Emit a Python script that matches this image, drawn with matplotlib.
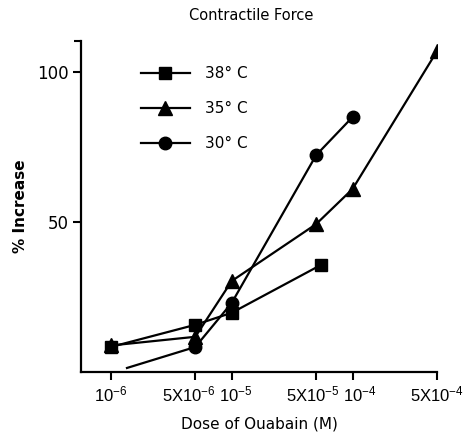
import numpy as np
import matplotlib
matplotlib.use('Agg')
import matplotlib.pyplot as plt
from matplotlib.transforms import ScaledTranslation

# dose of ouabain (M) and % increase
dose_38 = [1e-6, 5e-6, 1e-5, 5.5e-5]
inc_38 = [8.3, 15.7, 19.7, 35.7]

dose_35 = [1e-6, 5e-6, 1e-5, 5e-5, 1e-4, 5e-4]
inc_35 = [8.8, 11.7, 30.3, 49.3, 61.0, 107.0]

dose_30 = [5e-6, 1e-5, 5e-5, 1e-4]
inc_30 = [8.3, 23.0, 72.3, 85.0]
# unmarked start of the 30 C line
dose_30_start = [1.36e-6, 5e-6]
inc_30_start = [1.3, 8.3]

xticks = [1e-6, 5e-6, 1e-5, 5e-5, 1e-4, 5e-4]
xticklabels = [r'$10^{-6}$', r'5X$10^{-6}$', r'$10^{-5}$',
               r'5X$10^{-5}$', r'$10^{-4}$', r'5X$10^{-4}$']

plt.rcParams['font.family'] = 'DejaVu Sans'
plt.rcParams['mathtext.fontset'] = 'custom'
plt.rcParams['mathtext.rm'] = 'Liberation Sans'
plt.rcParams['mathtext.it'] = 'Liberation Sans'
plt.rcParams['mathtext.default'] = 'rm'

fig = plt.figure(figsize=(4.73, 4.38), dpi=100)
ax = fig.add_axes([0.171, 0.151, 0.753, 0.755])

ax.plot(dose_30_start, inc_30_start, color='black', lw=1.6)
ax.plot(dose_38, inc_38, '-s', color='black', lw=1.6, ms=8, label='38° C')
ax.plot(dose_35, inc_35, '-^', color='black', lw=1.6, ms=10, label='35° C')
ax.plot(dose_30, inc_30, '-o', color='black', lw=1.6, ms=9, label='30° C')

ax.set_xscale('log')
ax.set_xlim(10 ** -6.248, 5e-4)
ax.set_ylim(0, 110.3)
ax.set_xticks(xticks)
ax.set_xticklabels(xticklabels, fontsize=12, family='Liberation Sans')
ax.xaxis.set_minor_locator(matplotlib.ticker.NullLocator())
ax.set_yticks([50, 100])
ax.set_yticklabels(['50', '100'], fontsize=12)
ax.set_yticks([110.3], minor=True)
ax.tick_params(axis='y', which='minor', length=5, width=1.5)
ax.tick_params(axis='both', which='major', length=6, width=1.5, direction='out', pad=3)

# nudge the crowded tick labels apart a little
shifts = [0, -6, 4, -3, 7, 0]
for lab, dx in zip(ax.get_xticklabels(), shifts):
    lab.set_transform(lab.get_transform() + ScaledTranslation(dx / 100, 0, fig.dpi_scale_trans))

for s in ['top', 'right']:
    ax.spines[s].set_visible(False)
for s in ['left', 'bottom']:
    ax.spines[s].set_linewidth(1.6)

ax.set_xlabel('Dose of Ouabain (M)', fontsize=11, labelpad=9)
ax.set_ylabel('% Increase', fontsize=11, fontweight='bold', labelpad=6)
fig.text(0.53, 0.965, 'Contractile Force', ha='center', va='center', fontsize=10.5)

ax.legend(loc='upper left', bbox_to_anchor=(0.13, 0.965), frameon=False,
          handlelength=3.2, labelspacing=1.3, fontsize=11, handletextpad=1.0)

fig.savefig('out.png', dpi=100)
